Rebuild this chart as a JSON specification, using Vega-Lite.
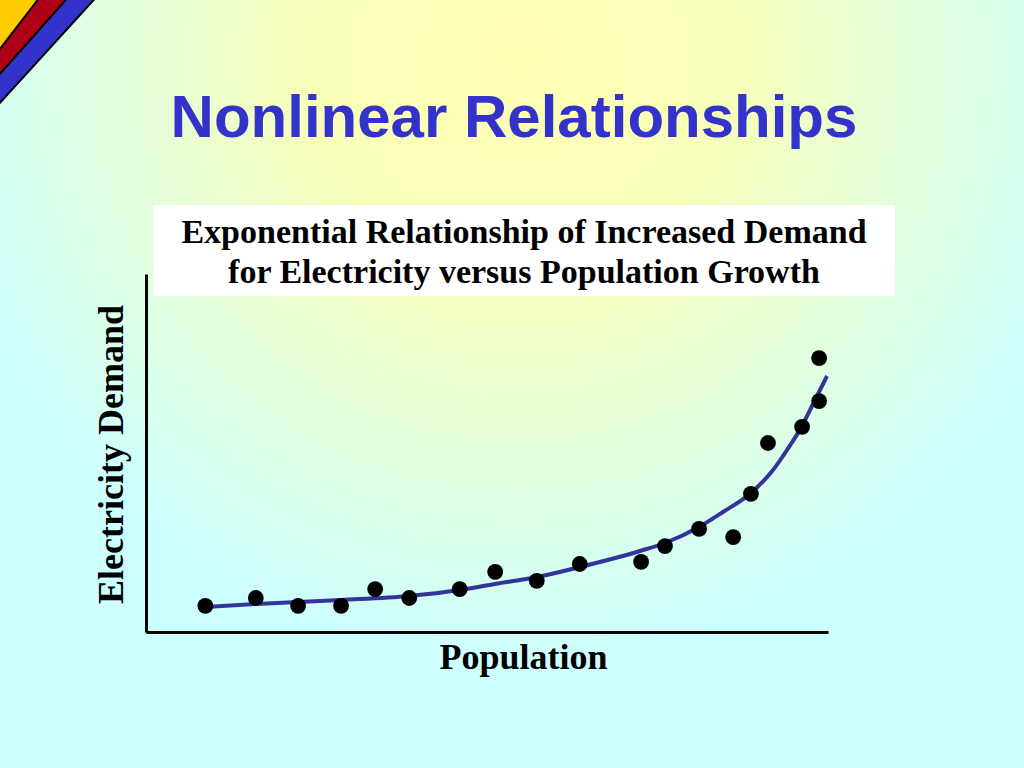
{
  "$schema": "https://vega.github.io/schema/vega-lite/v6.json",
  "width": 682,
  "height": 358,
  "autosize": {"type": "none"},
  "padding": {"left": 146, "top": 274, "right": 196, "bottom": 136},
  "background": "#CCFFFF",
  "config": {
    "view": {"stroke": null},
    "axisX": {
      "domain": true, "domainColor": "black", "domainWidth": 3,
      "ticks": false, "labels": false, "grid": false,
      "titleFont": "Liberation Serif", "titleFontSize": 36, "titleFontWeight": "bold", "titleColor": "black",
      "titleX": 377, "titleY": 36, "titleBaseline": "alphabetic", "titleAlign": "center"
    },
    "axisY": {
      "domain": true, "domainColor": "black", "domainWidth": 3,
      "ticks": false, "labels": false, "grid": false,
      "titleFont": "Liberation Serif", "titleFontSize": 36, "titleFontWeight": "bold", "titleColor": "black",
      "titleX": -24, "titleY": 180, "titleAngle": -90, "titleBaseline": "alphabetic", "titleAlign": "center"
    }
  },
  "title": {
    "text": "Nonlinear Relationships",
    "font": "Liberation Sans",
    "fontSize": 60,
    "fontWeight": "bold",
    "color": "#3333CC",
    "anchor": "middle",
    "dx": 27,
    "offset": -450,
    "zindex": 1
  },
  "datasets": {
    "observed": [
      {"population": 8.7, "demand": 7.3},
      {"population": 16.1, "demand": 9.5},
      {"population": 22.3, "demand": 7.3},
      {"population": 28.6, "demand": 7.3},
      {"population": 33.6, "demand": 12.0},
      {"population": 38.6, "demand": 9.5},
      {"population": 46.0, "demand": 12.0},
      {"population": 51.2, "demand": 16.8},
      {"population": 57.3, "demand": 14.3},
      {"population": 63.6, "demand": 19.0},
      {"population": 72.6, "demand": 19.6},
      {"population": 76.1, "demand": 24.0},
      {"population": 81.1, "demand": 28.8},
      {"population": 86.1, "demand": 26.5},
      {"population": 88.7, "demand": 38.6},
      {"population": 91.2, "demand": 52.8},
      {"population": 96.2, "demand": 57.3},
      {"population": 98.7, "demand": 76.5},
      {"population": 98.7, "demand": 64.5}
    ],
    "trend": [
      {"population": 8.65, "demand": 6.98},
      {"population": 16.13, "demand": 7.82},
      {"population": 28.59, "demand": 8.94},
      {"population": 38.56, "demand": 10.06},
      {"population": 46.04, "demand": 11.73},
      {"population": 51.17, "demand": 13.41},
      {"population": 57.33, "demand": 15.36},
      {"population": 63.64, "demand": 18.16},
      {"population": 72.43, "demand": 22.63},
      {"population": 76.10, "demand": 24.86},
      {"population": 81.09, "demand": 29.33},
      {"population": 84.60, "demand": 33.52},
      {"population": 88.71, "demand": 38.83},
      {"population": 91.94, "demand": 45.25},
      {"population": 93.99, "demand": 50.84},
      {"population": 96.19, "demand": 57.54},
      {"population": 97.80, "demand": 63.69},
      {"population": 98.68, "demand": 67.04},
      {"population": 99.85, "demand": 71.51}
    ]
  },
  "layer": [
    {
      "data": {"values": [{}]},
      "mark": {
        "type": "rect",
        "clip": false,
        "fill": {
          "gradient": "radial",
          "x1": 0.505, "y1": 0.24, "r1": 0,
          "x2": 0.505, "y2": 0.24, "r2": 0.4,
          "stops": [
            {"offset": 0, "color": "#FFFFB4"},
            {"offset": 0.35, "color": "#F8FEBA"},
            {"offset": 1, "color": "#CCFFFF"}
          ]
        }
      },
      "encoding": {
        "x": {"datum": -21.408, "type": "quantitative", "axis": {"title": "Population", "zindex": 1}, "scale": {"domain": [0, 100], "nice": false, "zero": false}},
        "x2": {"datum": 128.739},
        "y": {"datum": 260.34, "type": "quantitative", "axis": {"title": "Electricity Demand", "zindex": 1}, "scale": {"domain": [0, 100], "nice": false, "zero": false}},
        "y2": {"datum": -158.66}
      }
    },
    {
      "data": {"values": [{}]},
      "mark": {"type": "rule", "clip": false, "color": "black", "strokeWidth": 140.4},
      "encoding": {
        "x": {"datum": -7.771, "type": "quantitative", "axis": {"title": "Population", "zindex": 1}, "scale": {"domain": [0, 100], "nice": false, "zero": false}},
        "x2": {"datum": -35.044},
        "y": {"datum": 205.028, "type": "quantitative", "axis": {"title": "Electricity Demand", "zindex": 1}, "scale": {"domain": [0, 100], "nice": false, "zero": false}},
        "y2": {"datum": 148.045}
      }
    },
    {
      "data": {"values": [{}]},
      "mark": {"type": "rule", "clip": false, "color": "#3333CC", "strokeWidth": 136.4},
      "encoding": {
        "x": {"datum": -7.771, "type": "quantitative", "axis": {"title": "Population", "zindex": 1}, "scale": {"domain": [0, 100], "nice": false, "zero": false}},
        "x2": {"datum": -35.044},
        "y": {"datum": 205.028, "type": "quantitative", "axis": {"title": "Electricity Demand", "zindex": 1}, "scale": {"domain": [0, 100], "nice": false, "zero": false}},
        "y2": {"datum": 148.045}
      }
    },
    {
      "data": {"values": [{}]},
      "mark": {"type": "rule", "clip": false, "color": "black", "strokeWidth": 100.1},
      "encoding": {
        "x": {"datum": -11.877, "type": "quantitative", "axis": {"title": "Population", "zindex": 1}, "scale": {"domain": [0, 100], "nice": false, "zero": false}},
        "x2": {"datum": -30.938},
        "y": {"datum": 196.927, "type": "quantitative", "axis": {"title": "Electricity Demand", "zindex": 1}, "scale": {"domain": [0, 100], "nice": false, "zero": false}},
        "y2": {"datum": 156.145}
      }
    },
    {
      "data": {"values": [{}]},
      "mark": {"type": "rule", "clip": false, "color": "#B00018", "strokeWidth": 96.1},
      "encoding": {
        "x": {"datum": -11.877, "type": "quantitative", "axis": {"title": "Population", "zindex": 1}, "scale": {"domain": [0, 100], "nice": false, "zero": false}},
        "x2": {"datum": -30.938},
        "y": {"datum": 196.927, "type": "quantitative", "axis": {"title": "Electricity Demand", "zindex": 1}, "scale": {"domain": [0, 100], "nice": false, "zero": false}},
        "y2": {"datum": 156.145}
      }
    },
    {
      "data": {"values": [{}]},
      "mark": {"type": "rule", "clip": false, "color": "black", "strokeWidth": 61.6},
      "encoding": {
        "x": {"datum": -15.982, "type": "quantitative", "axis": {"title": "Population", "zindex": 1}, "scale": {"domain": [0, 100], "nice": false, "zero": false}},
        "x2": {"datum": -26.833},
        "y": {"datum": 189.944, "type": "quantitative", "axis": {"title": "Electricity Demand", "zindex": 1}, "scale": {"domain": [0, 100], "nice": false, "zero": false}},
        "y2": {"datum": 163.128}
      }
    },
    {
      "data": {"values": [{}]},
      "mark": {"type": "rule", "clip": false, "color": "#FFCC00", "strokeWidth": 57.6},
      "encoding": {
        "x": {"datum": -15.982, "type": "quantitative", "axis": {"title": "Population", "zindex": 1}, "scale": {"domain": [0, 100], "nice": false, "zero": false}},
        "x2": {"datum": -26.833},
        "y": {"datum": 189.944, "type": "quantitative", "axis": {"title": "Electricity Demand", "zindex": 1}, "scale": {"domain": [0, 100], "nice": false, "zero": false}},
        "y2": {"datum": 163.128}
      }
    },
    {
      "data": {"values": [{}]},
      "mark": {"type": "rect", "clip": false, "fill": "white"},
      "encoding": {
        "x": {"datum": 1.026, "type": "quantitative", "axis": {"title": "Population", "zindex": 1}, "scale": {"domain": [0, 100], "nice": false, "zero": false}},
        "x2": {"datum": 109.824},
        "y": {"datum": 119.274, "type": "quantitative", "axis": {"title": "Electricity Demand", "zindex": 1}, "scale": {"domain": [0, 100], "nice": false, "zero": false}},
        "y2": {"datum": 93.855}
      }
    },
    {
      "data": {"values": [{}]},
      "mark": {
        "type": "text",
        "clip": false,
        "text": ["Exponential Relationship of Increased Demand", "for Electricity versus Population Growth"],
        "font": "Liberation Serif",
        "fontSize": 34,
        "fontWeight": "bold",
        "color": "black",
        "align": "center",
        "baseline": "alphabetic",
        "lineHeight": 40
      },
      "encoding": {
        "x": {"datum": 55.425, "type": "quantitative", "axis": {"title": "Population", "zindex": 1}, "scale": {"domain": [0, 100], "nice": false, "zero": false}},
        "y": {"datum": 108.659, "type": "quantitative", "axis": {"title": "Electricity Demand", "zindex": 1}, "scale": {"domain": [0, 100], "nice": false, "zero": false}}
      }
    },
    {
      "data": {"name": "trend"},
      "mark": {"type": "line", "color": "#333399", "strokeWidth": 4, "interpolate": "monotone", "clip": false},
      "encoding": {
        "x": {"field": "population", "type": "quantitative", "axis": {"title": "Population", "zindex": 1}, "scale": {"domain": [0, 100], "nice": false, "zero": false}},
        "y": {"field": "demand", "type": "quantitative", "axis": {"title": "Electricity Demand", "zindex": 1}, "scale": {"domain": [0, 100], "nice": false, "zero": false}}
      }
    },
    {
      "data": {"name": "observed"},
      "mark": {"type": "circle", "size": 250, "color": "black", "opacity": 1, "clip": false},
      "encoding": {
        "x": {"field": "population", "type": "quantitative", "axis": {"title": "Population", "zindex": 1}, "scale": {"domain": [0, 100], "nice": false, "zero": false}},
        "y": {"field": "demand", "type": "quantitative", "axis": {"title": "Electricity Demand", "zindex": 1}, "scale": {"domain": [0, 100], "nice": false, "zero": false}}
      }
    }
  ]
}
